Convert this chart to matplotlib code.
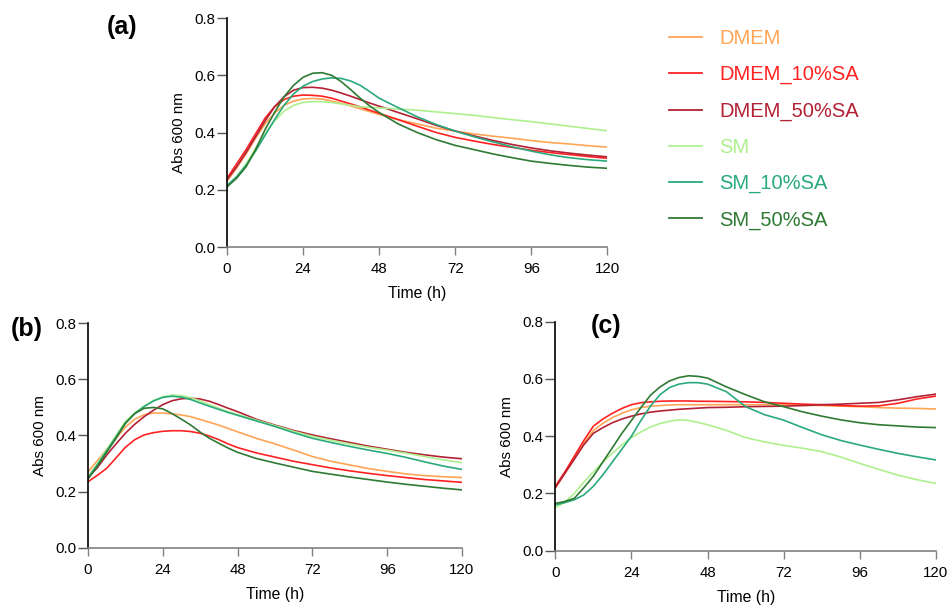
import numpy as np
import matplotlib.pyplot as plt
from matplotlib.lines import Line2D

plt.rcParams['font.family'] = ['Liberation Sans', 'DejaVu Sans']

# sampling times (h): every 3 h for the first two days, then every 6 h
time_h = np.concatenate([np.arange(0, 49, 3), np.arange(54, 121, 6)])

names = ["DMEM", "DMEM_10%SA", "DMEM_50%SA", "SM", "SM_10%SA", "SM_50%SA"]
colors = ["#ffa555", "#ff2222", "#b32134", "#aef08e", "#2aa97c", "#2f7a34"]

# (a)
a_dmem = [0.23, 0.275, 0.325, 0.38, 0.43, 0.468, 0.495, 0.51, 0.517, 0.519, 0.517, 0.51,
          0.502, 0.493, 0.483, 0.473, 0.463, 0.445, 0.43, 0.415, 0.405, 0.395, 0.387,
          0.38, 0.372, 0.365, 0.36, 0.354, 0.349]
a_dmem10 = [0.24, 0.29, 0.34, 0.395, 0.45, 0.49, 0.515, 0.527, 0.531, 0.53, 0.527, 0.52,
            0.51, 0.5, 0.49, 0.478, 0.467, 0.445, 0.422, 0.4, 0.383, 0.37, 0.358,
            0.348, 0.338, 0.33, 0.323, 0.316, 0.31]
a_dmem50 = [0.235, 0.28, 0.33, 0.385, 0.44, 0.49, 0.525, 0.548, 0.557, 0.558, 0.555, 0.548,
            0.538, 0.527, 0.515, 0.503, 0.492, 0.47, 0.448, 0.425, 0.405, 0.388, 0.372,
            0.358, 0.346, 0.336, 0.328, 0.321, 0.315]
a_sm = [0.21, 0.245, 0.29, 0.345, 0.395, 0.44, 0.475, 0.495, 0.505, 0.508, 0.508, 0.505,
        0.5, 0.495, 0.49, 0.488, 0.486, 0.482, 0.478, 0.472, 0.466, 0.46, 0.452,
        0.445, 0.438, 0.43, 0.422, 0.414, 0.406]
a_sm10 = [0.215, 0.245, 0.285, 0.335, 0.39, 0.445, 0.495, 0.535, 0.562, 0.578, 0.587, 0.591,
          0.589, 0.58, 0.565, 0.543, 0.52, 0.487, 0.455, 0.428, 0.405, 0.385, 0.367,
          0.35, 0.335, 0.322, 0.312, 0.305, 0.3]
a_sm50 = [0.21, 0.24, 0.28, 0.34, 0.41, 0.47, 0.525, 0.565, 0.593, 0.607, 0.609, 0.6,
          0.578, 0.55, 0.52, 0.493, 0.47, 0.43, 0.4, 0.375, 0.355, 0.34, 0.325,
          0.312, 0.3, 0.292, 0.285, 0.279, 0.275]

# (b)
b_dmem = [0.27, 0.31, 0.35, 0.39, 0.43, 0.458, 0.474, 0.48, 0.48, 0.477, 0.473, 0.467,
          0.457, 0.447, 0.437, 0.425, 0.413, 0.39, 0.37, 0.348, 0.325, 0.308, 0.295,
          0.282, 0.272, 0.263, 0.257, 0.253, 0.25]
b_dmem10 = [0.235, 0.258, 0.283, 0.32, 0.358, 0.385, 0.402, 0.41, 0.415, 0.417, 0.417, 0.414,
            0.408, 0.398, 0.385, 0.37, 0.357, 0.338, 0.323, 0.308, 0.296, 0.284, 0.274,
            0.265, 0.257, 0.25, 0.243, 0.238, 0.233]
b_dmem50 = [0.25, 0.285, 0.33, 0.37, 0.408, 0.44, 0.467, 0.49, 0.51, 0.524, 0.531, 0.533,
            0.53, 0.522, 0.51, 0.497, 0.485, 0.458, 0.437, 0.418, 0.402, 0.388, 0.375,
            0.362, 0.351, 0.34, 0.331, 0.323, 0.317]
b_sm = [0.25, 0.3, 0.35, 0.4, 0.45, 0.48, 0.505, 0.525, 0.538, 0.544, 0.542, 0.535,
        0.523, 0.51, 0.497, 0.485, 0.475, 0.455, 0.435, 0.415, 0.397, 0.383, 0.37,
        0.358, 0.348, 0.337, 0.325, 0.313, 0.303]
b_sm10 = [0.25, 0.295, 0.345, 0.395, 0.445, 0.478, 0.503, 0.523, 0.536, 0.54, 0.537, 0.528,
          0.516, 0.504, 0.493, 0.482, 0.472, 0.452, 0.432, 0.41, 0.39, 0.375, 0.361,
          0.348, 0.336, 0.322, 0.306, 0.291, 0.279]
b_sm50 = [0.245, 0.29, 0.34, 0.39, 0.443, 0.478, 0.497, 0.5, 0.495, 0.478, 0.458, 0.437,
          0.412, 0.39, 0.372, 0.355, 0.34, 0.318, 0.302, 0.287, 0.272, 0.262, 0.252,
          0.243, 0.234, 0.226, 0.219, 0.212, 0.206]

# (c)
c_dmem = [0.22, 0.27, 0.32, 0.375, 0.42, 0.445, 0.465, 0.48, 0.492, 0.5, 0.505, 0.507,
          0.509, 0.51, 0.51, 0.51, 0.51, 0.51, 0.51, 0.51, 0.51, 0.508, 0.507,
          0.505, 0.503, 0.5, 0.498, 0.497, 0.495]
c_dmem10 = [0.225, 0.275, 0.33, 0.385, 0.435, 0.46, 0.48, 0.497, 0.51, 0.517, 0.52, 0.522,
            0.523, 0.523, 0.523, 0.522, 0.522, 0.521, 0.52, 0.518, 0.515, 0.512, 0.51,
            0.507, 0.505, 0.506, 0.515, 0.53, 0.54]
c_dmem50 = [0.22, 0.27, 0.32, 0.37, 0.41, 0.43, 0.447, 0.46, 0.47, 0.478, 0.484, 0.488,
            0.491, 0.494, 0.496, 0.498, 0.5, 0.501, 0.503, 0.504, 0.505, 0.507, 0.51,
            0.512, 0.515, 0.518, 0.527, 0.538, 0.547]
c_sm = [0.15, 0.17, 0.2, 0.24, 0.275, 0.31, 0.34, 0.37, 0.395, 0.415, 0.432, 0.444,
        0.452, 0.457, 0.455, 0.448, 0.44, 0.42, 0.395, 0.38, 0.368, 0.358, 0.346,
        0.327, 0.305, 0.284, 0.264, 0.248, 0.235]
c_sm10 = [0.16, 0.168, 0.178, 0.195, 0.225, 0.265, 0.31, 0.355, 0.4, 0.455, 0.505, 0.545,
          0.57, 0.582, 0.587, 0.587, 0.582, 0.555, 0.503, 0.475, 0.456, 0.43, 0.405,
          0.385, 0.369, 0.354, 0.34, 0.328, 0.317]
c_sm50 = [0.165, 0.172, 0.183, 0.22, 0.26, 0.31, 0.36, 0.41, 0.455, 0.5, 0.543, 0.572,
          0.593, 0.605, 0.611, 0.609, 0.603, 0.572, 0.545, 0.52, 0.503, 0.485, 0.47,
          0.457, 0.447, 0.44, 0.436, 0.432, 0.43]

panels = [
    ([0.2387, 0.5944, 0.4, 0.376], [a_dmem, a_dmem10, a_dmem50, a_sm, a_sm10, a_sm50]),
    ([0.0925, 0.1007, 0.3933, 0.3684], [b_dmem, b_dmem10, b_dmem50, b_sm, b_sm10, b_sm50]),
    ([0.5839, 0.0957, 0.4003, 0.3761], [c_dmem, c_dmem10, c_dmem50, c_sm, c_sm10, c_sm50]),
]

fig = plt.figure(figsize=(9.51, 6.09), dpi=100)

for rect, series in panels:
    ax = fig.add_axes(rect)
    for vals, col in zip(series, colors):
        ax.plot(time_h, vals, color=col, lw=1.2)
    ax.set_xlim(0, 120)
    ax.set_ylim(0, 0.8)
    ax.set_xticks([0, 24, 48, 72, 96, 120])
    ax.set_yticks([0.0, 0.2, 0.4, 0.6, 0.8])
    ax.set_yticklabels(["0.0", "0.2", "0.4", "0.6", "0.8"])
    ax.spines['top'].set_visible(False)
    ax.spines['right'].set_visible(False)
    ax.spines['left'].set_color('black')
    ax.spines['bottom'].set_color('#808080')
    ax.spines['left'].set_linewidth(1.2)
    ax.spines['bottom'].set_linewidth(1.2)
    ax.tick_params(axis='y', direction='out', length=7.5, width=1, color='#555555',
                   labelsize=10.8, pad=1)
    ax.tick_params(axis='x', direction='out', length=6, width=1, color='#808080',
                   labelsize=10.8, pad=5)
    ax.set_xlabel("Time (h)", fontsize=11.3, labelpad=7)
    ax.set_ylabel("Abs 600 nm", fontsize=10.9, labelpad=6)

fig.text(107 / 951, 1 - 27 / 609, "(a)", fontsize=18, fontweight='bold', va='center')
fig.text(11 / 951, 1 - 329 / 609, "(b)", fontsize=18, fontweight='bold', va='center')
fig.text(591 / 951, 1 - 326 / 609, "(c)", fontsize=18, fontweight='bold', va='center')

handles = [Line2D([], [], color=c, lw=1.3) for c in colors]
fig.legend(handles, names, loc='upper left', bbox_to_anchor=(651 / 951, 1 - 11 / 609),
           frameon=False, labelcolor='linecolor', fontsize=14.5, handlelength=1.65,
           handletextpad=0.85, labelspacing=0.85)

fig.savefig("out.png", dpi=100)
